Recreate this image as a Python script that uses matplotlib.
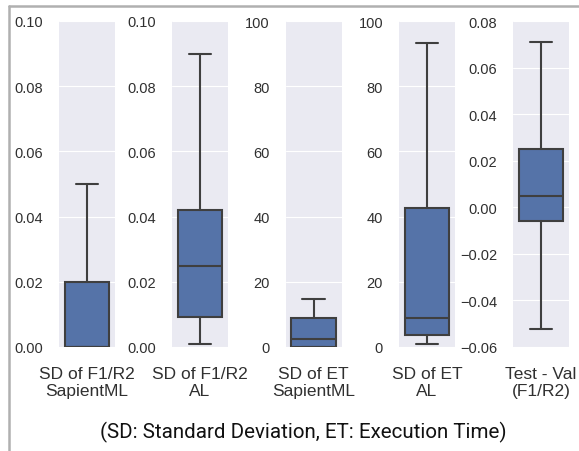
import matplotlib
matplotlib.use("Agg")
import matplotlib.pyplot as plt
from matplotlib.lines import Line2D
import seaborn as sns

# box statistics
labels = ["SD of F1/R2\nSapientML", "SD of F1/R2\nAL", "SD of ET\nSapientML",
          "SD of ET\nAL", "Test - Val\n(F1/R2)"]
whislo = [0.0, 0.001, 0.0, 1.0, -0.0523]
q1 = [0.0, 0.0092, 0.0, 3.8, -0.0057]
med = [0.0, 0.025, 2.5, 8.8, 0.005]
q3 = [0.020, 0.042, 8.8, 42.6, 0.025]
whishi = [0.050, 0.090, 14.8, 93.2, 0.071]

ylims = [(0, 0.10), (0, 0.10), (0, 100), (0, 100), (-0.06, 0.08)]
yticks = [
    [0.00, 0.02, 0.04, 0.06, 0.08, 0.10],
    [0.00, 0.02, 0.04, 0.06, 0.08, 0.10],
    [0, 20, 40, 60, 80, 100],
    [0, 20, 40, 60, 80, 100],
    [-0.06, -0.04, -0.02, 0.00, 0.02, 0.04, 0.06, 0.08],
]
yfmt = ["{:.2f}", "{:.2f}", "{:.0f}", "{:.0f}", "{:.2f}"]

caption = "(SD: Standard Deviation, ET: Execution Time)"

sns.set_style("darkgrid")
plt.rcParams['font.family'] = ['Liberation Sans', 'DejaVu Sans']

W, H = 579, 452
fig = plt.figure(figsize=(W / 100, H / 100), dpi=100)
fig.patch.set_facecolor("white")

lefts = [59, 172, 285.5, 399, 513]
ax_w = 56
top, bottom = 22, 348

box_color = "#5573a8"
line_color = "#3f3f3f"
text_color = "#303030"

for i in range(5):
    ax = fig.add_axes([lefts[i] / W, 1 - bottom / H, ax_w / W, (bottom - top) / H])
    stats = [{
        "whislo": whislo[i], "q1": q1[i], "med": med[i],
        "q3": q3[i], "whishi": whishi[i], "fliers": [],
    }]
    ax.bxp(stats, positions=[0], widths=0.8, patch_artist=True,
           showfliers=False,
           boxprops=dict(facecolor=box_color, edgecolor=line_color, linewidth=1.5),
           medianprops=dict(color=line_color, linewidth=1.5),
           whiskerprops=dict(color=line_color, linewidth=1.5),
           capprops=dict(color=line_color, linewidth=1.5),
           capwidths=0.4)
    ax.set_xlim(-0.5, 0.5)
    ax.set_ylim(*ylims[i])
    ax.set_yticks(yticks[i])
    ax.set_yticklabels([yfmt[i].format(v).replace("-", "\u2212") for v in yticks[i]])
    ax.set_xticks([0])
    ax.set_xticklabels([labels[i]], fontsize=12.5, color=text_color, linespacing=1.2)
    ax.tick_params(axis="y", labelsize=10.5, colors=text_color, pad=8)
    ax.tick_params(axis="x", pad=10)
    ax.grid(axis="x", visible=False)
    for s in ax.spines.values():
        s.set_visible(False)

fig.text(0.524, 1 - 432 / H, caption, ha="center", va="center",
         fontsize=14.8, family=["Roboto", "DejaVu Sans"], color="#111111")

# gray frame of the screenshot (top and left edges)
fig.add_artist(Line2D([9 / W, 1], [1 - 7 / H, 1 - 7 / H], transform=fig.transFigure,
                      color="#b0b0b0", linewidth=1.8))
fig.add_artist(Line2D([9 / W, 9 / W], [0, 1 - 7 / H], transform=fig.transFigure,
                      color="#b0b0b0", linewidth=1.8))

fig.savefig("out.png", dpi=100)
